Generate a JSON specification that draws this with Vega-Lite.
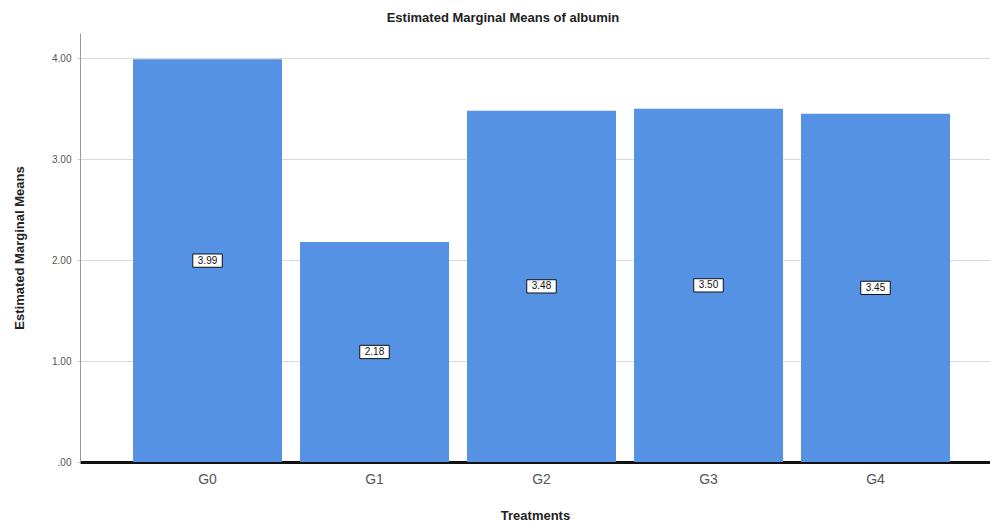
{
  "$schema": "https://vega.github.io/schema/vega-lite/v6.json",
  "width": 910,
  "height": 429,
  "autosize": {"type": "none"},
  "padding": {"left": 80, "top": 33, "right": 0, "bottom": 60},
  "background": "white",
  "title": {"text": "Estimated Marginal Means of albumin", "font": "Liberation Sans", "fontSize": 13, "fontWeight": "bold", "color": "#222", "offset": 8, "dx": -32},
  "config": {"view": {"stroke": null}, "font": "Liberation Sans"},
  "data": {"values": [
    {"group": "G0", "mean": 3.99},
    {"group": "G1", "mean": 2.18},
    {"group": "G2", "mean": 3.48},
    {"group": "G3", "mean": 3.50},
    {"group": "G4", "mean": 3.45}
  ]},
  "encoding": {
    "x": {"field": "group", "type": "nominal", "sort": null,
      "scale": {"paddingInner": 0.108, "paddingOuter": 0.2786, "align": 0.57},
      "axis": {"title": "Treatments", "titleFontSize": 13, "titleFontWeight": "bold", "titleColor": "#222", "titlePadding": 23, "labelAngle": 0, "labelFontSize": 14, "labelColor": "#555", "labelPadding": 10, "ticks": false, "domainColor": "#111", "domainWidth": 3}}
  },
  "layer": [
    {"mark": {"type": "bar", "color": "#5592E4"},
     "encoding": {"y": {"field": "mean", "type": "quantitative", "scale": {"domain": [0, 4.25], "nice": false},
       "axis": {"title": "Estimated Marginal Means", "titleFontSize": 13, "titleFontWeight": "bold", "titleColor": "#222", "titlePadding": 25,
         "values": [0, 1, 2, 3, 4], "labelExpr": "datum.value == 0 ? '.00' : format(datum.value, '.2f')", "labelFontSize": 10, "labelColor": "#555", "labelPadding": 6, "tickSize": 3, "tickColor": "#ccc", "domainColor": "#999", "gridColor": "#d9d9d9", "grid": true}}}},
    {"transform": [{"calculate": "datum.mean / 2", "as": "mid"}],
     "mark": {"type": "point", "shape": "M-1,-0.45H1V0.45H-1Z", "filled": true, "fill": "white", "stroke": "#111", "strokeWidth": 1, "size": 870, "opacity": 1},
     "encoding": {"y": {"field": "mid", "type": "quantitative"}}},
    {"transform": [{"calculate": "datum.mean / 2", "as": "mid"}],
     "mark": {"type": "text", "fontSize": 10, "color": "#111", "baseline": "middle"},
     "encoding": {"y": {"field": "mid", "type": "quantitative"}, "text": {"field": "mean", "type": "quantitative", "format": ".2f"}}}
  ]
}
